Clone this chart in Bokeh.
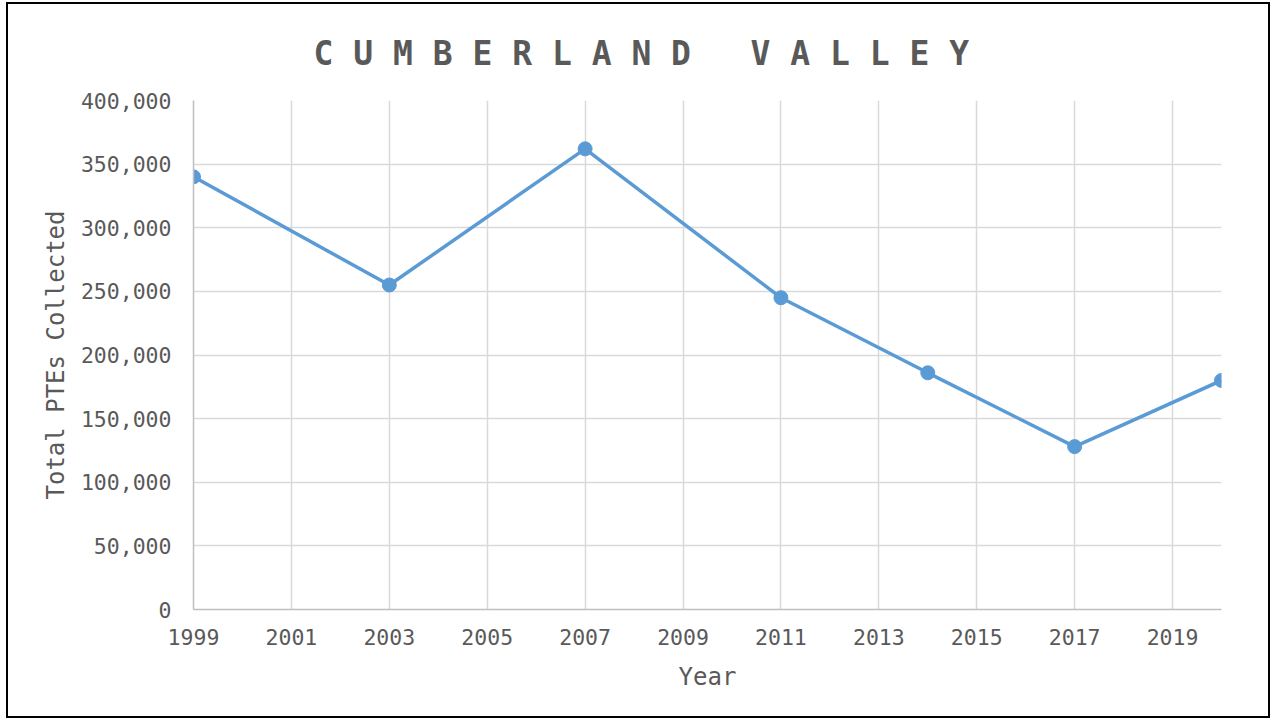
from bokeh.plotting import figure
from bokeh.models import FixedTicker, NumeralTickFormatter, Range1d
from bokeh.embed import file_html
from bokeh.resources import INLINE

years = [1999, 2003, 2007, 2011, 2014, 2017, 2020]
ptes = [340000, 255000, 362000, 245000, 186000, 128000, 180000]
x_ticks = [1999, 2001, 2003, 2005, 2007, 2009, 2011, 2013, 2015, 2017, 2019]
y_ticks = [0, 50000, 100000, 150000, 200000, 250000, 300000, 350000, 400000]
title_text = "CUMBERLAND VALLEY"

FONT = "DejaVu Sans Mono"
GREY = "#595959"
NBSP = "\u00a0"
spaced_title = NBSP.join(NBSP if ch == " " else ch for ch in title_text)

p = figure(width=1264, height=716, output_backend="svg", toolbar_location=None,
           x_range=Range1d(1999, 2020), y_range=Range1d(0, 400000),
           min_border_left=185, min_border_right=51, min_border_top=96,
           min_border_bottom=111, title=spaced_title)
p.styles = {"border": "2px solid black", "margin-left": "6px", "margin-top": "2px"}

p.title.align = "left"
p.title.text_font = FONT
p.title.text_font_size = "33px"
p.title.text_font_style = "bold"
p.title.text_color = GREY
p.title.standoff = 55
p.title.offset = 120

p.outline_line_color = None
p.background_fill_color = "white"

p.xaxis.ticker = FixedTicker(ticks=x_ticks)
p.yaxis.ticker = FixedTicker(ticks=y_ticks)
p.yaxis.formatter = NumeralTickFormatter(format="0,0")

for ax in (p.xaxis, p.yaxis):
    ax.major_tick_line_color = None
    ax.minor_tick_line_color = None
    ax.major_label_text_font = FONT
    ax.major_label_text_font_size = "21.5px"
    ax.major_label_text_color = GREY
    ax.axis_label_text_font = FONT
    ax.axis_label_text_font_size = "24px"
    ax.axis_label_text_font_style = "normal"
    ax.axis_label_text_color = GREY

p.xaxis.axis_label = "Year"
p.yaxis.axis_label = "Total PTEs Collected"
p.xaxis.axis_line_color = "#bfbfbf"
p.yaxis.axis_line_color = "#bfbfbf"
p.xaxis.axis_line_width = 1.5
p.yaxis.axis_line_width = 1.5
p.xaxis.major_label_standoff = 13
p.yaxis.major_label_standoff = 16
p.xaxis.axis_label_standoff = 15
p.yaxis.axis_label_standoff = 8

p.xgrid.grid_line_color = "#d9d9d9"
p.ygrid.grid_line_color = "#d9d9d9"
p.xgrid.grid_line_width = 1.5
p.ygrid.grid_line_width = 1.5

p.line(years, ptes, line_color="#5b9bd5", line_width=3.5)
p.scatter(years, ptes, size=14, fill_color="#5b9bd5", line_color="#5b9bd5")

open("out.html", "w").write(file_html(p, INLINE))
